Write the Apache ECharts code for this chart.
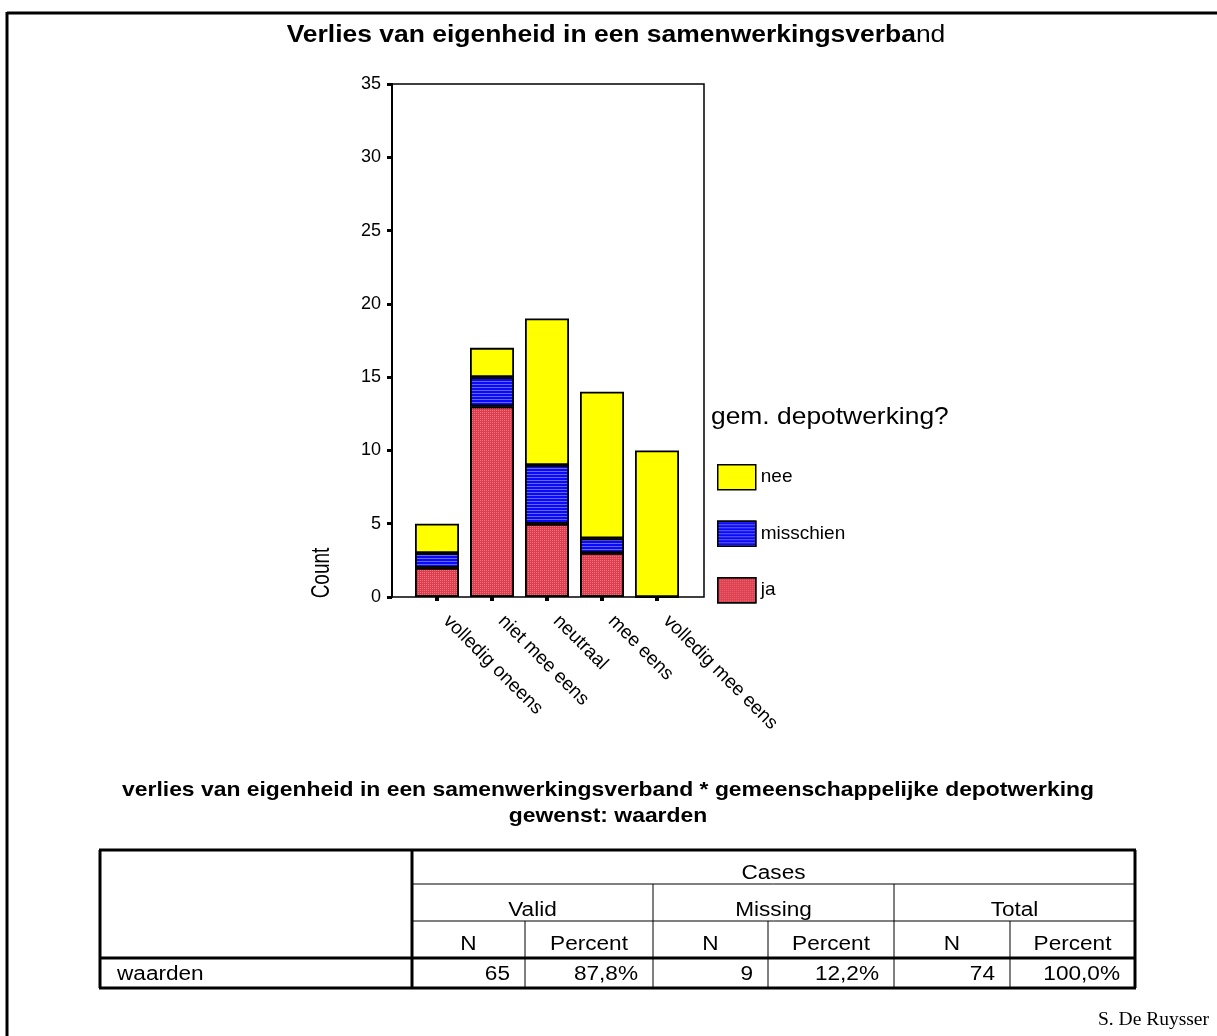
<!DOCTYPE html>
<html>
<head>
<meta charset="utf-8">
<script src="https://cdn.jsdelivr.net/npm/echarts@6/dist/echarts.min.js"></script>
<style>
html,body{margin:0;padding:0;background:#fff;}
#chart{width:1217px;height:1036px;}
</style>
</head>
<body>
<div id="chart"></div>
<script>
// ---- data ----
const categories = ['volledig oneens', 'niet mee eens', 'neutraal', 'mee eens', 'volledig mee eens'];
const jaValues = [2, 13, 5, 3, 0];
const misschienValues = [1, 2, 4, 1, 0];
const neeValues = [2, 2, 10, 10, 10];
const yTicks = [0, 5, 10, 15, 20, 25, 30, 35];
const seriesNames = ['ja', 'misschien', 'nee'];
const legendOrder = ['nee', 'misschien', 'ja'];
const legendTitle = 'gem. depotwerking?';
const chartTitleBold = 'Verlies van eigenheid in een samenwerkingsverba';
const chartTitleTail = 'nd';
const yAxisName = 'Count';
const tableTitleLines = ['verlies van eigenheid in een samenwerkingsverband * gemeenschappelijke depotwerking', 'gewenst: waarden'];
const tableTop = 'Cases';
const tableGroups = ['Valid', 'Missing', 'Total'];
const tableSubHeaders = ['N', 'Percent'];
const tableRowLabel = 'waarden';
const tableRowValues = ['65', '87,8%', '9', '12,2%', '74', '100,0%'];
const footer = 'S. De Ruysser';

// ---- layout ----
const FONT = '"Liberation Sans", Arial, sans-serif';
const colX = [100, 412, 525, 653, 768, 894, 1010, 1135];
const rowY = [850, 884, 921, 958, 988];
const rowBase = [880, 917, 951, 981];

const colors = { ja: '#dc3e4e', misschien: '#0a0af5', nee: '#ffff00' };
const decals = {
  ja: { symbol: 'rect', symbolSize: 1, dashArrayX: [1, 1], dashArrayY: [1, 1], color: 'rgba(255,170,180,0.5)' },
  misschien: { symbol: 'rect', symbolSize: 1, dashArrayX: [6, 0], dashArrayY: [1, 2], color: 'rgba(110,110,255,0.9)' }
};

const chart = echarts.init(document.getElementById('chart'), null, { renderer: 'canvas' });

const graphics = [];
// place text by its baseline (Arial-like metrics: em middle ~0.35em above baseline)
function text(t, x, baseline, size, weight, align, extra, family) {
  graphics.push(Object.assign({ type: 'text', x, y: baseline - 0.345 * size,
    style: { text: t, font: (weight || '') + ' ' + size + 'px ' + (family || FONT), fill: '#000', align, verticalAlign: 'middle' } }, extra || {}));
}
// page border
graphics.push({ type: 'line', shape: { x1: 7, y1: 13, x2: 1217, y2: 13 }, style: { stroke: '#000', lineWidth: 3 } });
graphics.push({ type: 'line', shape: { x1: 7, y1: 12, x2: 7, y2: 1036 }, style: { stroke: '#000', lineWidth: 3 } });
// chart title
graphics.push({ type: 'text', x: 616, y: 44 - 0.345 * 23, scaleX: 1.15,
  style: { text: '{b|' + chartTitleBold + '}{n|' + chartTitleTail + '}', align: 'center', verticalAlign: 'middle',
    rich: {
      b: { font: 'bold 23px ' + FONT, fill: '#000' },
      n: { font: '23px ' + FONT, fill: '#000' }
    } } });
// y axis name
graphics.push({ type: 'text', x: 322, y: 573, rotation: Math.PI / 2, scaleY: 1.35,
  style: { text: yAxisName, font: '19px ' + FONT, fill: '#000', align: 'center', verticalAlign: 'middle' } });
// legend title
text(legendTitle, 711, 426, 24, '', 'left', { scaleX: 1.1 });
// table title
text(tableTitleLines[0], 608, 797, 21, 'bold', 'center', { scaleX: 1.09 });
text(tableTitleLines[1], 608, 823, 21, 'bold', 'center', { scaleX: 1.09 });

// table lines
function L(x1, y1, x2, y2, w) {
  graphics.push({ type: 'line', shape: { x1, y1, x2, y2 }, style: { stroke: '#000', lineWidth: w } });
}
L(colX[0] - 1, rowY[0], colX[7] + 1, rowY[0], 3);
L(colX[0] - 1, rowY[4], colX[7] + 1, rowY[4], 3);
L(colX[0], rowY[0], colX[0], rowY[4], 3);
L(colX[7], rowY[0], colX[7], rowY[4], 3);
L(colX[1], rowY[0], colX[1], rowY[4], 3);
L(colX[0], rowY[3], colX[7], rowY[3], 3);
L(colX[1], rowY[1], colX[7], rowY[1], 1);
L(colX[1], rowY[2], colX[7], rowY[2], 1);
L(colX[3], rowY[1], colX[3], rowY[4], 1);
L(colX[5], rowY[1], colX[5], rowY[4], 1);
L(colX[2], rowY[2], colX[2], rowY[4], 1);
L(colX[4], rowY[2], colX[4], rowY[4], 1);
L(colX[6], rowY[2], colX[6], rowY[4], 1);

const TS = { scaleX: 1.13 };
text(tableTop, (colX[1] + colX[7]) / 2, rowBase[0], 20, '', 'center', TS);
tableGroups.forEach((g, i) => {
  text(g, (colX[1 + 2 * i] + colX[3 + 2 * i]) / 2, rowBase[1], 20, '', 'center', TS);
});
for (let i = 0; i < 6; i++) {
  text(tableSubHeaders[i % 2], (colX[1 + i] + colX[2 + i]) / 2, rowBase[2], 20, '', 'center', TS);
  text(tableRowValues[i], colX[2 + i] - 15, rowBase[3], 20, '', 'right', TS);
}
text(tableRowLabel, colX[0] + 17, rowBase[3], 20, '', 'left', TS);

// footer
text(footer, 1209, 1027, 19.5, '', 'right', null, '"Liberation Serif", "Times New Roman", serif');

const barItem = (k) => ({ color: colors[k], borderColor: '#000', borderWidth: 1.8, decal: decals[k] || undefined });

const option = {
  animation: false,
  backgroundColor: '#fff',
  textStyle: { fontFamily: FONT },
  legend: {
    data: legendOrder,
    orient: 'vertical',
    left: 712, top: 459,
    itemWidth: 38, itemHeight: 25, itemGap: 30,
    icon: 'rect',
    textStyle: { fontFamily: FONT, fontSize: 19, color: '#000' },
    itemStyle: { borderColor: '#000', borderWidth: 1.5 },
    selectedMode: false
  },
  grid: [
    { left: 392, top: 84, width: 312, height: 513, show: true, borderColor: '#000', borderWidth: 1.5, backgroundColor: 'transparent', containLabel: false },
    { left: 409.5, top: 84, width: 275, height: 513, containLabel: false }
  ],
  xAxis: [
    { gridIndex: 0, type: 'value', show: false, min: 0, max: 1 },
    {
      gridIndex: 1, type: 'category', data: categories,
      axisLine: { show: false },
      axisTick: { show: true, alignWithLabel: true, length: 4, lineStyle: { color: '#000', width: 4 } },
      axisLabel: { rotate: -45, fontSize: 19, color: '#000', margin: 12, padding: [0, 0, 0, 13], fontFamily: FONT, interval: 0 },
      splitLine: { show: false }
    }
  ],
  yAxis: [
    {
      gridIndex: 0, type: 'value', min: yTicks[0], max: yTicks[yTicks.length - 1], interval: yTicks[1] - yTicks[0],
      axisLine: { show: true, lineStyle: { color: '#000', width: 2 } },
      axisTick: { show: true, length: 5, lineStyle: { color: '#000', width: 3 } },
      axisLabel: { fontSize: 18, color: '#000', margin: 11, fontFamily: FONT },
      splitLine: { show: false }
    },
    { gridIndex: 1, type: 'value', min: yTicks[0], max: yTicks[yTicks.length - 1], show: false, splitLine: { show: false } }
  ],
  series: [
    { name: seriesNames[0], type: 'bar', stack: 'total', xAxisIndex: 1, yAxisIndex: 1, barWidth: 44, data: jaValues, itemStyle: barItem('ja') },
    { name: seriesNames[1], type: 'bar', stack: 'total', xAxisIndex: 1, yAxisIndex: 1, barWidth: 44, data: misschienValues, itemStyle: barItem('misschien') },
    { name: seriesNames[2], type: 'bar', stack: 'total', xAxisIndex: 1, yAxisIndex: 1, barWidth: 44, data: neeValues, itemStyle: barItem('nee') }
  ],
  graphic: graphics
};
chart.setOption(option);
</script>
</body>
</html>
